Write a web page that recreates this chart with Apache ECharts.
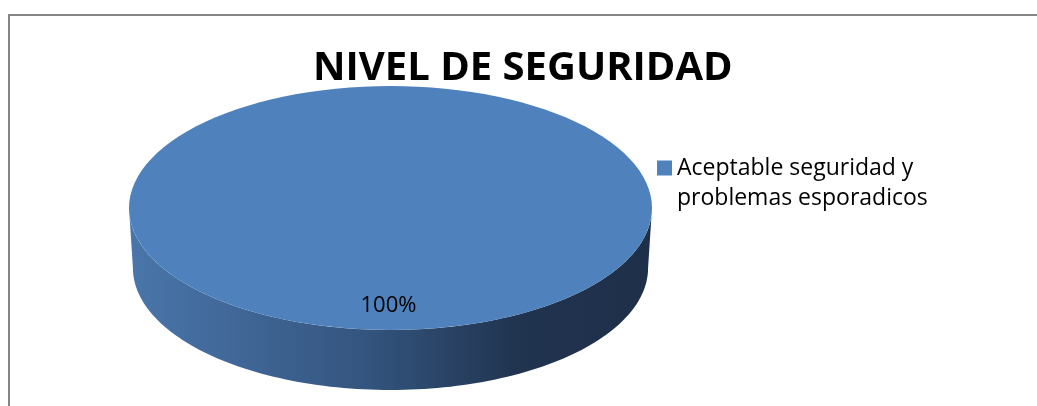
<!DOCTYPE html>
<html>
<head>
<meta charset="utf-8">
<script src="https://cdn.jsdelivr.net/npm/echarts@6/dist/echarts.min.js"></script>
<style>
  html, body { margin: 0; padding: 0; background: #fff; overflow: hidden; }
  #marco { position: absolute; left: 8px; top: 14px; width: 1100px; height: 500px;
           border-top: 2px solid #868686; border-left: 2px solid #868686; }
  #chart { position: absolute; left: 0; top: 0; width: 1037px; height: 406px; }
</style>
</head>
<body>
<div id="marco"></div>
<div id="chart"></div>
<script>
/* datos del grafico */
var titulo = 'NIVEL DE SEGURIDAD';
var categorias = ['Aceptable seguridad y problemas esporadicos'];
var valores = [100];
var colores = ['#4f81bd'];

var total = 0;
for (var i = 0; i < valores.length; i++) total += valores[i];

// angulos de cada porcion (empieza a las 12, sentido horario)
var cortes = [];
var acum = 0;
for (var i = 0; i < valores.length; i++) {
    var a0 = Math.PI / 2 - 2 * Math.PI * acum / total;
    acum += valores[i];
    var a1 = Math.PI / 2 - 2 * Math.PI * acum / total;
    cortes.push([a0, a1]);
}

var profundidad = 60;   // alto del canto en px
var encoge = 0.985;     // perspectiva del borde inferior

function puntos(api, desde, hasta, r) {
    var pts = [];
    var n = 120;
    for (var k = 0; k <= n; k++) {
        var t = desde + (hasta - desde) * k / n;
        pts.push(api.coord([r * Math.cos(t), r * Math.sin(t)]));
    }
    return pts;
}

function renderItem(params, api) {
    var idx = params.dataIndex;
    var a0 = cortes[idx][0], a1 = cortes[idx][1];
    var centro = api.coord([0, 0]);
    var hijos = [];

    // canto frontal: parte del arco con sin < 0
    var f0 = Math.min(a0, 0), f1 = Math.max(a1, -Math.PI);
    if (f0 > f1) {
        var arriba = puntos(api, f0, f1, 1);
        var abajo = arriba.map(function (p) {
            return [centro[0] + (p[0] - centro[0]) * encoge, p[1] + profundidad];
        }).reverse();
        hijos.push({
            type: 'polygon',
            z2: 0,
            shape: { points: arriba.concat(abajo) },
            style: {
                fill: new echarts.graphic.LinearGradient(0, 0, 1, 0, [
                    { offset: 0, color: '#4a76ab' },
                    { offset: 0.45, color: '#34557f' },
                    { offset: 0.75, color: '#20334f' },
                    { offset: 1, color: '#1e2f49' }
                ])
            }
        });
    }

    // cara superior
    var cara = puntos(api, a0, a1, 1);
    if (a0 - a1 < 2 * Math.PI - 1e-6) cara.push(centro);
    hijos.push({
        type: 'polygon',
        z2: 10,
        shape: { points: cara },
        style: { fill: colores[idx % colores.length] }
    });

    // etiqueta de porcentaje
    var medio = (a0 + a1) / 2;
    var pl = api.coord([0.8 * Math.cos(medio), 0.8 * Math.sin(medio)]);
    hijos.push({
        type: 'text',
        z2: 20,
        x: pl[0] - 2,
        y: pl[1],
        style: {
            text: Math.round(api.value(1) / total * 100) + '%',
            font: '22px "Open Sans"',
            fill: '#000',
            align: 'center',
            verticalAlign: 'middle'
        }
    });

    return { type: 'group', children: hijos };
}

var chart = echarts.init(document.getElementById('chart'));
var option = {
    animation: false,
    title: {
        text: titulo,
        left: 313,
        top: 49,
        padding: 0,
        textStyle: {
            fontFamily: 'Open Sans',
            fontWeight: 'bold',
            fontSize: 40,
            color: '#000'
        }
    },
    legend: {
        orient: 'vertical',
        left: 657,
        top: 123,
        padding: 0,
        icon: 'rect',
        itemWidth: 15,
        itemHeight: 15,
        data: [categorias[0]],
        formatter: function (name) {
            return '\n' + name.replace(' y ', ' y\n');
        },
        textStyle: {
            fontFamily: 'Open Sans',
            fontSize: 23,
            lineHeight: 30,
            color: '#000'
        }
    },
    grid: { left: 129, top: 86, width: 523, height: 244 },
    xAxis: { type: 'value', min: -1, max: 1, show: false },
    yAxis: { type: 'value', min: -1, max: 1, show: false },
    series: [{
        name: categorias[0],
        type: 'custom',
        renderItem: renderItem,
        itemStyle: { color: colores[0] },
        data: valores.map(function (v, i) { return [i, v]; }),
        encode: { x: -1, y: -1 }
    }]
};
chart.setOption(option);
</script>
</body>
</html>
